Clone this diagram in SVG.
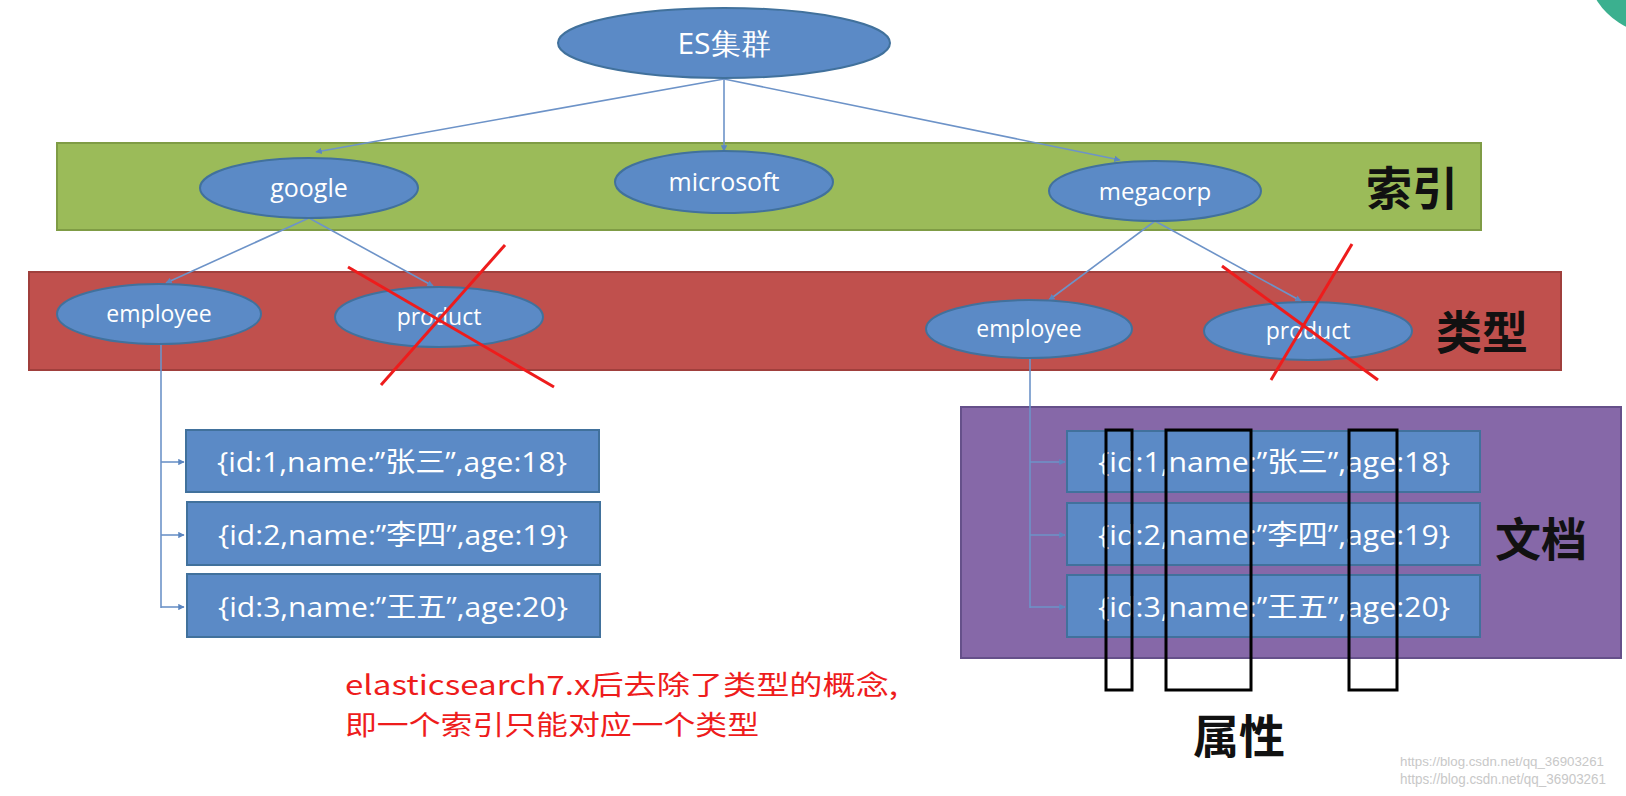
<svg xmlns="http://www.w3.org/2000/svg" width="1626" height="796" viewBox="0 0 1626 796">
<defs>
<marker id="arr" viewBox="0 0 10 10" refX="9" refY="5" markerWidth="4" markerHeight="4" orient="auto"><path d="M0,0 L10,5 L0,10 z" fill="#5b86c0"/></marker>
<style>
.node ellipse{fill:#5b8ac6;stroke:#41719c;stroke-width:2}
.nt{fill:#fff;font-family:"Open Sans","Noto Sans",sans-serif;text-anchor:middle}
.rec rect{fill:#5b8ac6;stroke:#41719c;stroke-width:2}
.rt{fill:#fff;font-family:"Open Sans","Noto Sans CJK SC",sans-serif;font-size:28px;text-anchor:middle}
.lab{fill:#111;font-family:"Noto Sans CJK SC",sans-serif;font-size:46px;font-weight:bold}
.con{stroke:#6d93c8;stroke-width:1.6;fill:none}
.cross{stroke:#ee1c1c;stroke-width:3}
.attr{fill:none;stroke:#000;stroke-width:3}
</style>
</defs>
<rect width="1626" height="796" fill="#fff"/>
<circle cx="1660" cy="-40" r="75" fill="#3bb08f"/>
<circle cx="-30" cy="-30" r="34" fill="#3bb08f"/>

<g id="band-index"><rect x="57" y="143" width="1424" height="87" fill="#9bbb59" stroke="#7f9c45" stroke-width="2"/>
<text class="lab" x="1366" y="205">索引</text></g>
<g id="band-type"><rect x="29" y="272" width="1532" height="98" fill="#c0504d" stroke="#a03f3c" stroke-width="2"/>
<text class="lab" x="1436" y="349">类型</text></g>
<g id="band-doc"><rect x="961" y="407" width="660" height="251" fill="#8668a8" stroke="#65508a" stroke-width="2"/>
<text class="lab" x="1495" y="556" font-weight="normal">文档</text></g>

<g id="connectors">
<line class="con" x1="724" y1="79" x2="316" y2="152" marker-end="url(#arr)"/>
<line class="con" x1="724" y1="79" x2="724" y2="151" marker-end="url(#arr)"/>
<line class="con" x1="724" y1="79" x2="1120" y2="160" marker-end="url(#arr)"/>
<line class="con" x1="309" y1="218" x2="166" y2="283" marker-end="url(#arr)"/>
<line class="con" x1="309" y1="218" x2="433" y2="286" marker-end="url(#arr)"/>
<line class="con" x1="1155" y1="221" x2="1049" y2="300" marker-end="url(#arr)"/>
<line class="con" x1="1155" y1="221" x2="1301" y2="301" marker-end="url(#arr)"/>
<path class="con" d="M161,344 V608"/>
<line class="con" x1="161" y1="462" x2="184" y2="462" marker-end="url(#arr)"/>
<line class="con" x1="161" y1="535" x2="184" y2="535" marker-end="url(#arr)"/>
<line class="con" x1="161" y1="607" x2="184" y2="607" marker-end="url(#arr)"/>
<path class="con" d="M1030,358 V608"/>
<line class="con" x1="1030" y1="462" x2="1065" y2="462" marker-end="url(#arr)"/>
<line class="con" x1="1030" y1="535" x2="1065" y2="535" marker-end="url(#arr)"/>
<line class="con" x1="1030" y1="607" x2="1065" y2="607" marker-end="url(#arr)"/>
</g>

<g id="es" class="node"><ellipse cx="724" cy="43" rx="166" ry="35"/><text class="nt" x="724" y="54" font-size="30">ES集群</text></g>
<g id="google" class="node"><ellipse cx="309" cy="188" rx="109" ry="30"/><text class="nt" x="309" y="197" font-size="25">google</text></g>
<g id="microsoft" class="node"><ellipse cx="724" cy="182" rx="109" ry="31"/><text class="nt" x="724" y="191" font-size="25">microsoft</text></g>
<g id="megacorp" class="node"><ellipse cx="1155" cy="191" rx="106" ry="30"/><text class="nt" x="1155" y="200" font-size="24">megacorp</text></g>
<g id="employee1" class="node"><ellipse cx="159" cy="314" rx="102" ry="30"/><text class="nt" x="159" y="322" font-size="23">employee</text></g>
<g id="product1" class="node"><ellipse cx="439" cy="317" rx="104" ry="30"/><text class="nt" x="439" y="325" font-size="23">product</text></g>
<g id="employee2" class="node"><ellipse cx="1029" cy="329" rx="103" ry="29"/><text class="nt" x="1029" y="337" font-size="23">employee</text></g>
<g id="product2" class="node"><ellipse cx="1308" cy="331" rx="104" ry="29"/><text class="nt" x="1308" y="339" font-size="23">product</text></g>

<g id="cross1"><line class="cross" x1="348" y1="267" x2="554" y2="387"/><line class="cross" x1="505" y1="245" x2="381" y2="385"/></g>
<g id="cross2"><line class="cross" x1="1222" y1="266" x2="1378" y2="380"/><line class="cross" x1="1352" y1="244" x2="1271" y2="380"/></g>

<g id="doc1a" class="rec"><rect x="186" y="430" width="413" height="62"/><text class="rt" x="392" y="472" textLength="350" lengthAdjust="spacingAndGlyphs">{id:1,name:”张三”,age:18}</text></g>
<g id="doc2a" class="rec"><rect x="187" y="502" width="413" height="63"/><text class="rt" x="393" y="545" textLength="350" lengthAdjust="spacingAndGlyphs">{id:2,name:”李四”,age:19}</text></g>
<g id="doc3a" class="rec"><rect x="187" y="574" width="413" height="63"/><text class="rt" x="393" y="617" textLength="350" lengthAdjust="spacingAndGlyphs">{id:3,name:”王五”,age:20}</text></g>
<g id="doc1b" class="rec"><rect x="1067" y="431" width="413" height="61"/><text class="rt" x="1274" y="472" textLength="352" lengthAdjust="spacingAndGlyphs">{id:1,name:”张三”,age:18}</text></g>
<g id="doc2b" class="rec"><rect x="1067" y="503" width="413" height="62"/><text class="rt" x="1274" y="545" textLength="352" lengthAdjust="spacingAndGlyphs">{id:2,name:”李四”,age:19}</text></g>
<g id="doc3b" class="rec"><rect x="1067" y="575" width="413" height="62"/><text class="rt" x="1274" y="617" textLength="352" lengthAdjust="spacingAndGlyphs">{id:3,name:”王五”,age:20}</text></g>

<g id="attributes"><rect class="attr" x="1106" y="430" width="26" height="260"/><rect class="attr" x="1166" y="430" width="85" height="260"/><rect class="attr" x="1349" y="430" width="48" height="260"/>
<text class="lab" x="1193" y="753" font-size="44">属性</text></g>

<g id="note" fill="#ee1c1c" font-family="'Noto Sans CJK SC',sans-serif" font-size="27">
<text x="345" y="695" textLength="553" lengthAdjust="spacingAndGlyphs">elasticsearch7.x后去除了类型的概念,</text>
<text x="345" y="735" textLength="414" lengthAdjust="spacingAndGlyphs">即一个索引只能对应一个类型</text>
</g>
<g id="watermark" fill="#c8c8c8" font-family="'Liberation Sans',sans-serif" font-size="13">
<text x="1400" y="766" textLength="204" lengthAdjust="spacingAndGlyphs">https://blog.csdn.net/qq_36903261</text>
<text x="1400" y="784" textLength="206" lengthAdjust="spacingAndGlyphs" font-size="14">https://blog.csdn.net/qq_36903261</text>
</g>
</svg>
